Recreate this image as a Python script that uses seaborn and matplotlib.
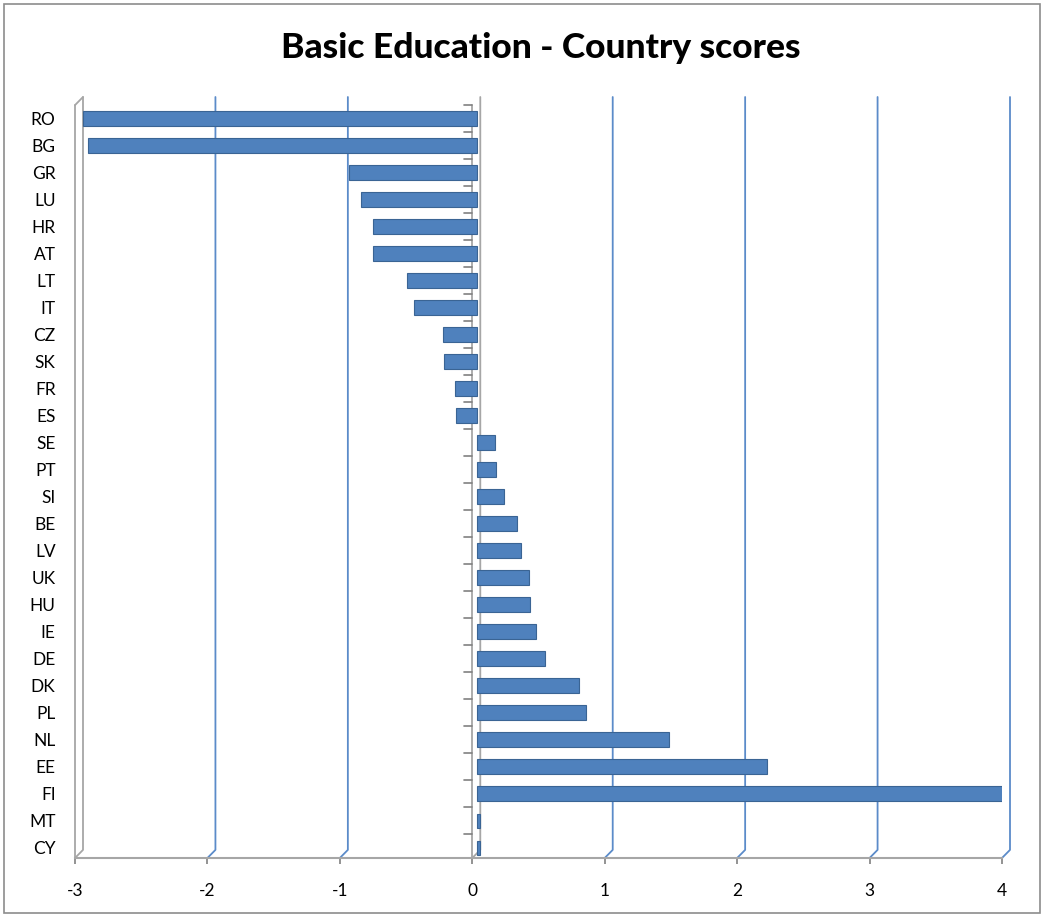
import numpy as np
import pandas as pd
import matplotlib
matplotlib.use('Agg')
import matplotlib.pyplot as plt
import matplotlib.transforms as mtransforms
from matplotlib.patches import Rectangle
import seaborn as sns

# Данные: оценки стран
countries = ['RO', 'BG', 'GR', 'LU', 'HR', 'AT', 'LT', 'IT', 'CZ', 'SK', 'FR', 'ES',
             'SE', 'PT', 'SI', 'BE', 'LV', 'UK', 'HU', 'IE', 'DE', 'DK', 'PL', 'NL',
             'EE', 'FI', 'MT', 'CY']
scores = [-2.98, -2.94, -0.97, -0.88, -0.79, -0.79, -0.53, -0.48, -0.26, -0.25, -0.17, -0.16,
          0.13, 0.14, 0.20, 0.30, 0.33, 0.39, 0.40, 0.44, 0.51, 0.77, 0.82, 1.45,
          2.19, 3.97, 0.02, 0.02]
x_ticks = [-3, -2, -1, 0, 1, 2, 3, 4]

df = pd.DataFrame({'country': countries, 'score': scores})

sns.set_theme(style='white')
plt.rcParams['font.family'] = ['Lato', 'DejaVu Sans']

fig = plt.figure(figsize=(10.44, 9.17), dpi=100)
ax = fig.add_axes([75 / 1044, 1 - 858 / 917, 927 / 1044, 761 / 917])

bar_color = '#4F81BD'
grid_color = '#5B8BC9'
wall_color = '#A6A6A6'

sns.barplot(data=df, x='score', y='country', orient='h', color=bar_color,
            saturation=1, width=0.55, edgecolor='#3A6494', linewidth=0.8, ax=ax)

# сдвиг столбцов "в глубину" (имитация 3D)
shift = mtransforms.ScaledTranslation(5 / 100, 0, fig.dpi_scale_trans)
for p in ax.patches:
    p.set_transform(ax.transData + shift)

n = len(countries)
y_top = -0.78
y_bot = n - 1 + 0.37
dx = 8 / 132.4
dy = 0.3

ax.set_xlim(x_ticks[0], x_ticks[-1])
ax.set_ylim(y_bot, y_top)

# линии сетки на задней стенке
for t in x_ticks:
    col = grid_color
    if t in (x_ticks[0], 0):
        col = wall_color
    ax.plot([t, t + dx, t + dx], [y_bot, y_bot - dy, y_top],
            color=col, lw=1.3, zorder=0.5, clip_on=False)
# левая стенка
ax.plot([x_ticks[0], x_ticks[0] + dx], [y_top + 0.3, y_top], color=wall_color,
        lw=1.3, clip_on=False, zorder=0.5)
ax.plot([x_ticks[0], x_ticks[0]], [y_bot, y_top + 0.3], color=wall_color,
        lw=1.3, clip_on=False, zorder=0.5)

# ось категорий у нуля с засечками
ax.plot([0, 0], [y_bot, y_top + 0.3], color=wall_color, lw=1.3, zorder=0.6)
for i in range(n + 1):
    ax.plot([-0.06, 0], [i - 0.5, i - 0.5], color='#808080', lw=1.2, zorder=0.6)

for s in ['top', 'right', 'left']:
    ax.spines[s].set_visible(False)
ax.spines['bottom'].set_color(wall_color)
ax.spines['bottom'].set_linewidth(1.5)

ax.set_xticks(x_ticks)
ax.set_xticklabels([str(t) for t in x_ticks])
ax.tick_params(axis='x', length=4, width=1.2, color='#808080', labelsize=12.5,
               pad=14, labelcolor='black', bottom=True)
ax.tick_params(axis='y', length=0, labelsize=12.5, pad=14, labelcolor='black')
ax.set_xlabel('')
ax.set_ylabel('')
ax.grid(False)

fig.text(0.518, 1 - 48 / 917, 'Basic Education - Country scores', ha='center',
         va='center', fontsize=25.5, fontweight='black', color='black')

fig.patches.append(Rectangle((4 / 1044, 4 / 917), 1 - 8 / 1044, 1 - 8 / 917,
                             transform=fig.transFigure, fill=False,
                             edgecolor='#8C8C8C', lw=1.2))

fig.savefig('out.png', dpi=100)
